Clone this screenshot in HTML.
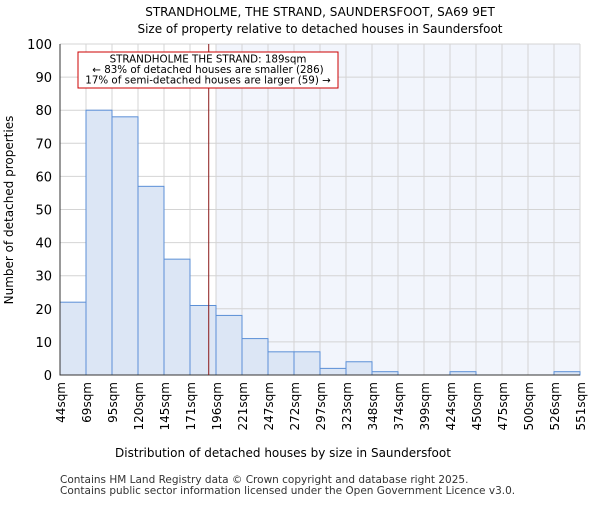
<!DOCTYPE html>
<html><head><meta charset="utf-8"><style>body{margin:0;background:#fff}svg{font-family:"DejaVu Sans","Liberation Sans",sans-serif}</style></head>
<body>
<svg id="c" width="600" height="500" xmlns="http://www.w3.org/2000/svg">
<text x="320" y="16" text-anchor="middle" font-size="12">STRANDHOLME, THE STRAND, SAUNDERSFOOT, SA69 9ET</text>
<text x="320" y="33" text-anchor="middle" font-size="12">Size of property relative to detached houses in Saundersfoot</text>
<g id="plot"></g>
<text x="283" y="457" text-anchor="middle" font-size="12">Distribution of detached houses by size in Saundersfoot</text>
<text transform="translate(13,210) rotate(-90)" text-anchor="middle" font-size="12">Number of detached properties</text>
<text x="60" y="483" font-size="10.5" fill="#333">Contains HM Land Registry data © Crown copyright and database right 2025.</text>
<text x="60" y="494" font-size="10.5" fill="#333">Contains public sector information licensed under the Open Government Licence v3.0.</text>
</svg>
<script>
const binLabels=["44sqm","69sqm","95sqm","120sqm","145sqm","171sqm","196sqm","221sqm","247sqm","272sqm","297sqm","323sqm","348sqm","374sqm","399sqm","424sqm","450sqm","475sqm","500sqm","526sqm","551sqm"];
const counts=[22,80,78,57,35,21,18,11,7,7,2,4,1,0,0,1,0,0,0,1];
const yTicks=[0,10,20,30,40,50,60,70,80,90,100];
const propertySize=189;
const NS="http://www.w3.org/2000/svg";
const X0=60,X1=580,Y0=375,Y1=44,yMax=100;
const n=counts.length,bw=(X1-X0)/n;
const xs=i=>X0+i*bw;
const ys=v=>Y0-(v/yMax)*(Y0-Y1);
const edges=binLabels.map(s=>parseFloat(s));
function xv(v){for(let i=0;i<n;i++){if(v<=edges[i+1])return xs(i)+(v-edges[i])/(edges[i+1]-edges[i])*bw;}return X1;}
const g=document.getElementById('plot');
function mk(t,a,p){const e=document.createElementNS(NS,t);for(const k in a)e.setAttribute(k,a[k]);(p||g).appendChild(e);return e;}
const px=xv(propertySize);
let shadeStart=xs(Math.ceil((px-X0)/bw));
const sh=mk('rect',{x:shadeStart,y:Y1,width:X1-shadeStart,height:Y0-Y1,fill:'#f2f5fc'});


for(let i=0;i<=n;i++){const l=mk('line',{x1:xs(i),x2:xs(i),y1:Y1,y2:Y0,stroke:'#d4d4d4','stroke-width':1});

}
yTicks.forEach(t=>{const l=mk('line',{x1:X0,x2:X1,y1:ys(t),y2:ys(t),stroke:'#d4d4d4','stroke-width':1});


const tx=mk('text',{x:X0-8,y:ys(t)+5,'text-anchor':'end','font-size':13});tx.textContent=t;

});
counts.forEach((v,i)=>{const r=mk('rect',{x:xs(i),y:ys(v),width:bw,height:Y0-ys(v),fill:'#dce6f5',stroke:'#5b8fd6','stroke-width':1});

});
binLabels.forEach((s,i)=>{const tx=mk('text',{transform:`translate(${xs(i)+5},382) rotate(-90)`,'text-anchor':'end','font-size':12});tx.textContent=s;

});
const ax=mk('path',{d:`M${X0},${Y1}V${Y0}H${X1}`,fill:'none',stroke:'#333','stroke-width':1});


const vl=mk('line',{x1:px,x2:px,y1:Y1,y2:Y0,stroke:'#8b1a1a','stroke-width':1});


const bx=mk('rect',{x:78,y:52,width:260,height:36,fill:'#fff',stroke:'#c00','stroke-width':1});


["STRANDHOLME THE STRAND: 189sqm","← 83% of detached houses are smaller (286)","17% of semi-detached houses are larger (59) →"].forEach((s,i)=>{const t=mk('text',{x:208,y:62.5+i*10.5,'text-anchor':'middle','font-size':10.3});t.textContent=s;

});
</script>
</body></html>
